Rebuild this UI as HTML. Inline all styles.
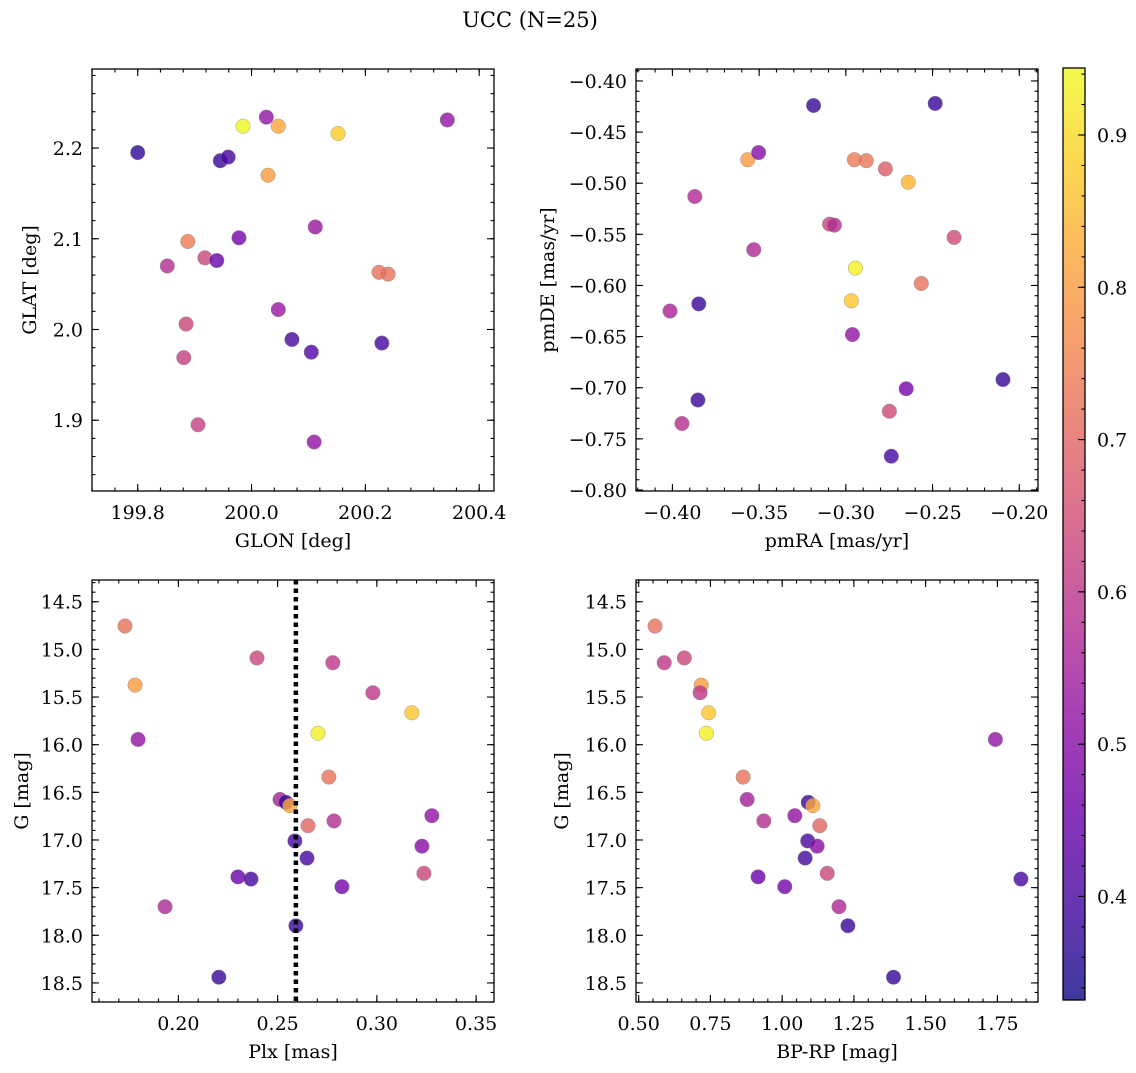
<!DOCTYPE html>
<html><head><meta charset="utf-8"><style>
html,body{margin:0;padding:0;background:#fff;}
svg text{font-family:"DejaVu Serif","Liberation Serif",serif;fill:#000;}
</style></head><body>
<svg id="fig" width="1136" height="1068" viewBox="0 0 1136 1068" xmlns="http://www.w3.org/2000/svg">
<defs>
<linearGradient id="plasmaGrad" x1="0" y1="1" x2="0" y2="0">
<stop offset="0" stop-color="#0d0887"/><stop offset="0.1" stop-color="#41049d"/><stop offset="0.2" stop-color="#6a00a8"/><stop offset="0.3" stop-color="#8f0da4"/><stop offset="0.4" stop-color="#b12a90"/><stop offset="0.5" stop-color="#cc4778"/><stop offset="0.6" stop-color="#e16462"/><stop offset="0.7" stop-color="#f2844b"/><stop offset="0.8" stop-color="#fca636"/><stop offset="0.9" stop-color="#fcce25"/><stop offset="1" stop-color="#f0f921"/>
</linearGradient>
</defs>
<text x="530" y="27" font-size="21" text-anchor="middle">UCC (N=25)</text>
</svg>
<script>
// Panel 1: GLON / GLAT
const glon = [199.800,199.985,200.026,200.047,200.152,200.344,199.945,199.959,200.029,199.888,199.978,200.112,199.852,199.918,199.939,200.224,200.240,200.047,199.885,200.071,200.105,200.229,199.881,199.906,200.110];
const glat = [2.195,2.224,2.234,2.224,2.216,2.231,2.186,2.190,2.170,2.097,2.101,2.113,2.070,2.079,2.076,2.063,2.061,2.022,2.006,1.989,1.975,1.985,1.969,1.895,1.876];
const c1 = [0.37,0.94,0.52,0.82,0.88,0.52,0.38,0.40,0.80,0.74,0.47,0.53,0.58,0.63,0.45,0.72,0.72,0.53,0.63,0.40,0.42,0.40,0.62,0.62,0.52];
// Panel 2: pmRA / pmDE
const pmra = [-0.3186,-0.2485,-0.3566,-0.3503,-0.2951,-0.2882,-0.2772,-0.2640,-0.3871,-0.3094,-0.3066,-0.2376,-0.3531,-0.2945,-0.2565,-0.2968,-0.3848,-0.4014,-0.2962,-0.2652,-0.2094,-0.3853,-0.2749,-0.3945,-0.2738];
const pmde = [-0.424,-0.422,-0.477,-0.470,-0.477,-0.478,-0.486,-0.499,-0.513,-0.540,-0.541,-0.553,-0.565,-0.583,-0.598,-0.615,-0.618,-0.625,-0.648,-0.701,-0.692,-0.712,-0.723,-0.735,-0.767];
const c2 = [0.38,0.38,0.80,0.50,0.74,0.73,0.68,0.84,0.57,0.63,0.58,0.64,0.57,0.93,0.72,0.87,0.38,0.56,0.52,0.47,0.38,0.38,0.64,0.58,0.40];
// Panels 3 & 4: shared stars
const gmag = [14.755,15.375,15.945,15.09,15.14,15.455,15.665,15.88,16.34,16.575,16.605,16.64,16.85,16.80,16.745,17.01,17.19,17.35,17.065,17.49,17.387,17.41,17.70,17.90,18.44];
const plx  = [0.1731,0.1782,0.1797,0.2396,0.2778,0.2980,0.3176,0.2703,0.2758,0.2512,0.2542,0.2562,0.2653,0.2784,0.3277,0.2587,0.2648,0.3237,0.3227,0.2824,0.2300,0.2366,0.1933,0.2592,0.2204];
const bprp = [0.557,0.718,1.743,0.659,0.589,0.714,0.744,0.736,0.864,0.878,1.091,1.107,1.131,0.936,1.044,1.089,1.080,1.157,1.122,1.009,0.916,1.832,1.198,1.229,1.388];
const c34 = [0.72,0.80,0.52,0.63,0.60,0.60,0.87,0.93,0.72,0.55,0.38,0.82,0.70,0.58,0.52,0.40,0.40,0.63,0.50,0.47,0.45,0.40,0.57,0.38,0.38];
const plxLine = 0.2592;
const cmin = 0.332, cmax = 0.944;
const cbTicks = [0.4,0.5,0.6,0.7,0.8,0.9];

const NS = "http://www.w3.org/2000/svg";
const svg = document.getElementById('fig');
function mk(tag, attrs, parent){ const e=document.createElementNS(NS,tag); for(const k in attrs) e.setAttribute(k,attrs[k]); (parent||svg).appendChild(e); return e; }

const plasma = ["#0d0887","#41049d","#6a00a8","#8f0da4","#b12a90","#cc4778","#e16462","#f2844b","#fca636","#fcce25","#f0f921"];
function hex(h){return [parseInt(h.substr(1,2),16),parseInt(h.substr(3,2),16),parseInt(h.substr(5,2),16)];}
function cmap(v){ let t=(v-cmin)/(cmax-cmin); t=Math.max(0,Math.min(1,t)); const f=t*10, i=Math.min(9,Math.floor(f)), r=f-i; const a=hex(plasma[i]), b=hex(plasma[i+1]); return 'rgb('+a.map((x,k)=>Math.round(x+(b[k]-x)*r)).join(',')+')'; }

function fmt(v,d){ let s=v.toFixed(d); if(s.startsWith('-')) s='\u2212'+s.slice(1); return s; }

const FS = 19;
function panel(o){
  const g = mk('g',{});
  
  
  const sx = v => o.x0 + (v-o.xmin)/(o.xmax-o.xmin)*(o.x1-o.x0);
  const sy = o.yinv ? (v => o.y0 + (v-o.ymin)/(o.ymax-o.ymin)*(o.y1-o.y0)) : (v => o.y1 - (v-o.ymin)/(o.ymax-o.ymin)*(o.y1-o.y0));
  const tg = mk('g',{stroke:'#000','stroke-width':1.1},g);
  function ticksX(step, len, labels, dec){
    const start=Math.ceil(o.xmin/step-1e-9);
    for(let k=start; k*step<=o.xmax+1e-9; k++){ const v=k*step, X=sx(v);
      mk('line',{x1:X,x2:X,y1:o.y1,y2:o.y1-len},tg); mk('line',{x1:X,x2:X,y1:o.y0,y2:o.y0+len},tg);
      if(labels){ const t=mk('text',{x:X,y:o.y1+28,'font-size':FS,'text-anchor':'middle'},g); t.textContent=fmt(v,dec);
          } }
  }
  function ticksY(step, len, labels, dec){
    const lo=Math.min(o.ymin,o.ymax), hi=Math.max(o.ymin,o.ymax);
    const start=Math.ceil(lo/step-1e-9);
    for(let k=start; k*step<=hi+1e-9; k++){ const v=k*step, Y=sy(v);
      mk('line',{x1:o.x0,x2:o.x0+len,y1:Y,y2:Y},tg); mk('line',{x1:o.x1,x2:o.x1-len,y1:Y,y2:Y},tg);
      if(labels){ const t=mk('text',{x:o.x0-9,y:Y+7,'font-size':FS,'text-anchor':'end'},g); t.textContent=fmt(v,dec);
          } }
  }
  ticksX(o.xmaj,7,true,o.xdec); ticksX(o.xmaj/o.xsub,3.5,false);
  ticksY(o.ymaj,7,true,o.ydec); ticksY(o.ymaj/o.ysub,3.5,false);
  for(let i=0;i<o.xs.length;i++){
    const p=mk('circle',{cx:sx(o.xs[i]),cy:sy(o.ys[i]),r:7.3,fill:cmap(o.cs[i]),'fill-opacity':0.8,stroke:'#888','stroke-width':0.4},g);
    
    
  }
  if(o.vline!==undefined){
    const l=mk('line',{x1:sx(o.vline),x2:sx(o.vline),y1:o.y0,y2:o.y1,stroke:'#000','stroke-width':4.5,'stroke-dasharray':'4.5,4'},g);
    
    
  }
  const fr=mk('rect',{x:o.x0,y:o.y0,width:o.x1-o.x0,height:o.y1-o.y0,fill:'none',stroke:'#000','stroke-width':1.3},g);
  
  
  const xl=mk('text',{x:(o.x0+o.x1)/2,y:o.y1+56,'font-size':FS,'text-anchor':'middle'},g); xl.textContent=o.xlabel;
   
  const yx=o.x0-o.ylOff, yy=(o.y0+o.y1)/2;
  const yl=mk('text',{x:yx,y:yy,'font-size':FS,'text-anchor':'middle',transform:'rotate(-90 '+yx+' '+yy+')'},g); yl.textContent=o.ylabel;
   
}

panel({name:'glon-glat-panel',ylOff:56,x0:92,x1:494,y0:69,y1:491,xmin:199.7197,xmax:200.426,ymin:1.8220,ymax:2.2871,xmaj:0.2,xsub:5,xdec:1,ymaj:0.1,ysub:5,ydec:1,xs:glon,ys:glat,cs:c1,xlabel:'GLON [deg]',ylabel:'GLAT [deg]'});
panel({name:'proper-motion-panel',ylOff:82,x0:636,x1:1038,y0:69,y1:491,xmin:-0.421,xmax:-0.1892,ymin:-0.801,ymax:-0.3883,xmaj:0.05,xsub:5,xdec:2,ymaj:0.05,ysub:5,ydec:2,xs:pmra,ys:pmde,cs:c2,xlabel:'pmRA [mas/yr]',ylabel:'pmDE [mas/yr]'});
panel({name:'plx-g-panel',ylOff:64,x0:92,x1:494,y0:580,y1:1002,xmin:0.1565,xmax:0.359,ymin:14.272,ymax:18.70,yinv:true,xmaj:0.05,xsub:5,xdec:2,ymaj:0.5,ysub:5,ydec:1,xs:plx,ys:gmag,cs:c34,vline:plxLine,xlabel:'Plx [mas]',ylabel:'G [mag]'});
panel({name:'cmd-panel',ylOff:68,x0:636,x1:1038,y0:580,y1:1002,xmin:0.4906,xmax:1.8915,ymin:14.272,ymax:18.70,yinv:true,xmaj:0.25,xsub:5,xdec:2,ymaj:0.5,ysub:5,ydec:1,xs:bprp,ys:gmag,cs:c34,xlabel:'BP-RP [mag]',ylabel:'G [mag]'});

const cb = mk('g',{});


const cbx0=1063, cbx1=1085, cby0=68, cby1=1000;
mk('rect',{x:cbx0,y:cby0,width:cbx1-cbx0,height:cby1-cby0,fill:'url(#plasmaGrad)','fill-opacity':0.8},cb);
const cy = v => cby1 - (v-cmin)/(cmax-cmin)*(cby1-cby0);
for(let k=Math.ceil(cmin/0.02); k*0.02<=cmax; k++){ const Y=cy(k*0.02); mk('line',{x1:cbx1,x2:cbx1-3.5,y1:Y,y2:Y,stroke:'#000','stroke-width':1.1},cb); }
for(const v of cbTicks){ const Y=cy(v);
  mk('line',{x1:cbx1,x2:cbx1-7,y1:Y,y2:Y,stroke:'#000','stroke-width':1.1},cb);
  const t=mk('text',{x:cbx1+12,y:Y+7,'font-size':FS},cb); t.textContent=v.toFixed(1);
  
  
}
mk('rect',{x:cbx0,y:cby0,width:cbx1-cbx0,height:cby1-cby0,fill:'none',stroke:'#000','stroke-width':1.3},cb);
</script>
</body></html>
